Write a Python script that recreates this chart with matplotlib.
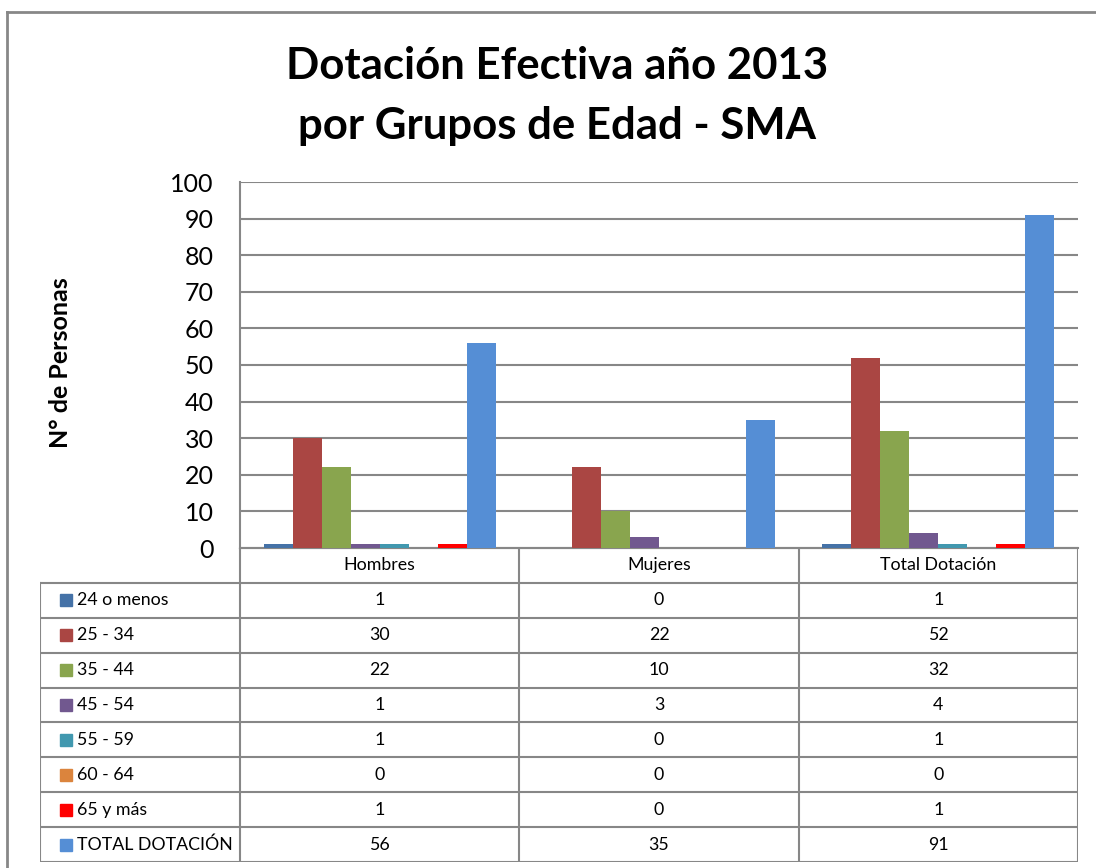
import matplotlib.pyplot as plt
import numpy as np
from matplotlib.patches import Rectangle

# ---------------------------------------------------------------------------
# DATA
# ---------------------------------------------------------------------------
groups = ["Hombres", "Mujeres", "Total Dotación"]
series_names = ["24 o menos", "25 - 34", "35 - 44", "45 - 54",
                "55 - 59", "60 - 64", "65 y más", "TOTAL DOTACIÓN"]
values = [
    [1, 0, 1],
    [30, 22, 52],
    [22, 10, 32],
    [1, 3, 4],
    [1, 0, 1],
    [0, 0, 0],
    [1, 0, 1],
    [56, 35, 91],
]
colors = ["#4572A7", "#AA4643", "#89A54E", "#71588F",
          "#4198AF", "#DB843D", "#FF0000", "#558ED5"]
y_ticks = list(range(0, 101, 10))

# ---------------------------------------------------------------------------
# LAYOUT (pixels)
# ---------------------------------------------------------------------------
W, H = 1096, 868
PX_L, PX_R = 240, 1078        # plot area left/right
PY_T, PY_B = 182, 548         # plot area top/bottom
TBL_L, TBL_B = 40, 862        # table left edge / bottom edge
GRID = "#878787"
FONT = "Lato"
TBL_FS = 12.8

plt.rcParams["font.family"] = [FONT, "DejaVu Sans"]

fig = plt.figure(figsize=(W / 100, H / 100), dpi=100)


def fx(px):
    return px / W


def fy(py):
    return 1 - py / H


# outer frame (only left and top visible)
fig.add_artist(plt.Line2D([fx(7), fx(7)], [fy(12), 0], color=GRID,
                          lw=2, transform=fig.transFigure))
fig.add_artist(plt.Line2D([fx(7), 1], [fy(12), fy(12)], color=GRID,
                          lw=2, transform=fig.transFigure))

fig.text(fx(557), fy(66), "Dotación Efectiva año 2013", ha="center",
         va="center", fontsize=31.5, fontweight="bold")
fig.text(fx(557), fy(126), "por Grupos de Edad - SMA", ha="center",
         va="center", fontsize=31.5, fontweight="bold")

# ---------------------------------------------------------------------------
# BARS
# ---------------------------------------------------------------------------
ax = fig.add_axes([fx(PX_L), fy(PY_B), fx(PX_R - PX_L), (PY_B - PY_T) / H])
n_series = len(series_names)
bar_w = 29 / 279
x = np.arange(len(groups))
for i, (name, vals, col) in enumerate(zip(series_names, values, colors)):
    offs = (i - (n_series - 1) / 2) * bar_w
    ax.bar(x + offs, vals, width=bar_w, color=col, zorder=3)

ax.set_xlim(-0.5, len(groups) - 0.5)
ax.set_ylim(0, 100)
ax.set_yticks(y_ticks)
ax.set_yticklabels([str(t) for t in y_ticks], fontsize=18)
ax.set_xticks([])
ax.tick_params(axis="y", length=0, pad=19)
ax.grid(axis="y", color=GRID, lw=1.5, zorder=0)
for s in ["top", "right"]:
    ax.spines[s].set_visible(False)
for s in ["left", "bottom"]:
    ax.spines[s].set_color(GRID)
    ax.spines[s].set_linewidth(1.5)
ax.set_ylabel("N° de Personas", fontsize=18, fontweight="bold")
ax.yaxis.set_label_coords((72 - PX_L) / (PX_R - PX_L),
                          (PY_B - 363) / (PY_B - PY_T))

# ---------------------------------------------------------------------------
# DATA TABLE
# ---------------------------------------------------------------------------
tax = fig.add_axes([fx(TBL_L), fy(TBL_B), fx(PX_R - TBL_L), (TBL_B - PY_B) / H])
tax.set_xlim(TBL_L, PX_R)
tax.set_ylim(TBL_B, PY_B)
tax.axis("off")

n_rows = n_series + 1
row_h = (TBL_B - PY_B) / n_rows
col_w = (PX_R - PX_L) / len(groups)
col_edges = [PX_L + k * col_w for k in range(len(groups) + 1)]
lk = dict(color=GRID, lw=1.5, solid_capstyle="projecting")

# horizontal lines
tax.plot([PX_L, PX_R], [PY_B, PY_B], **lk)
for r in range(1, n_rows + 1):
    y = PY_B + r * row_h
    tax.plot([TBL_L, PX_R], [y, y], **lk)
# vertical lines
tax.plot([TBL_L, TBL_L], [PY_B + row_h, TBL_B], **lk)
for xe in col_edges:
    tax.plot([xe, xe], [PY_B, TBL_B], **lk)

for j, g in enumerate(groups):
    tax.text(col_edges[j] + col_w / 2, PY_B + row_h / 2, g, ha="center",
             va="center", fontsize=TBL_FS)

for i, (name, vals, col) in enumerate(zip(series_names, values, colors)):
    yc = PY_B + (i + 1.5) * row_h
    tax.add_patch(Rectangle((60, yc - 6), 12, 12, color=col))
    tax.text(77, yc, name, ha="left", va="center", fontsize=TBL_FS)
    for j, v in enumerate(vals):
        tax.text(col_edges[j] + col_w / 2, yc, str(v), ha="center",
                 va="center", fontsize=TBL_FS)

fig.savefig("out.png", dpi=100)
